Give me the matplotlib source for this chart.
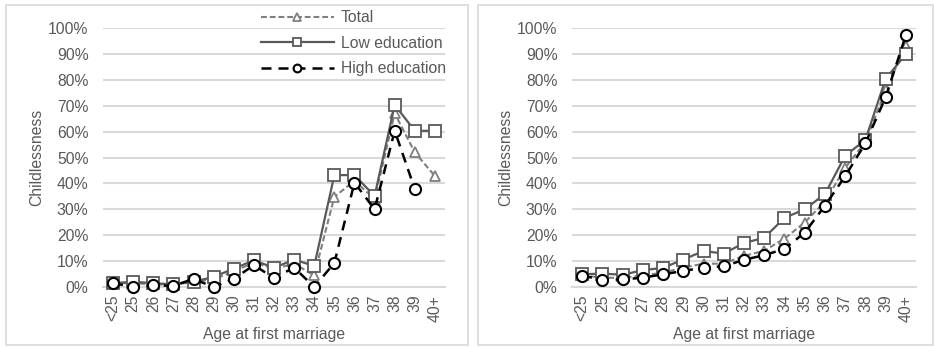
import numpy as np
import matplotlib
matplotlib.use("Agg")
import matplotlib.pyplot as plt
from matplotlib.patches import Rectangle
from matplotlib.ticker import FuncFormatter

plt.rcParams["font.family"] = ["Liberation Sans", "DejaVu Sans"]

ages = ["<25", "25", "26", "27", "28", "29", "30", "31", "32", "33", "34",
        "35", "36", "37", "38", "39", "40+"]

# left panel (%)
left_total = [1.5, 1.5, 1.0, 1.0, 2.0, 3.0, 6.0, 9.5, 7.0, 9.0, 4.5,
              34.8, 41.0, 34.0, 67.0, 52.0, 42.8]
left_low = [1.5, 2.0, 1.5, 1.0, 2.0, 3.9, 7.1, 10.3, 7.4, 10.6, 8.1,
            43.2, 43.2, 35.1, 70.3, 60.3, 60.3]
left_high = [1.5, 0.0, 0.6, 0.5, 3.1, 0.0, 3.2, 8.4, 3.5, 7.5, 0.0,
             9.3, 40.3, 30.0, 60.3, 37.8, np.nan]

# right panel (%)
right_total = [4.5, 3.6, 3.5, 4.5, 5.5, 7.5, 9.0, 9.0, 12.0, 14.0, 18.7,
               24.9, 33.0, 46.0, 56.0, 76.0, 93.2]
right_low = [4.9, 5.2, 4.7, 6.5, 7.4, 10.6, 13.9, 12.9, 17.0, 19.0, 26.7,
             30.0, 35.9, 50.7, 56.8, 80.4, 89.9]
right_high = [4.4, 2.8, 2.9, 3.6, 4.9, 6.2, 7.5, 8.0, 10.5, 12.3, 14.7,
              21.0, 31.4, 42.8, 55.5, 73.3, 97.2]

TXT = "#595959"
GRID = "#d9d9d9"
FS = 11.3

fig = plt.figure(figsize=(9.34, 3.47), dpi=100)
W, H = 934, 347

# panel borders
for x0, x1 in [(6, 468), (478, 933)]:
    fig.patches.append(Rectangle((x0 / W, 1 - 345 / H), (x1 - x0) / W, 340 / H,
                                 transform=fig.transFigure, fill=False,
                                 edgecolor="#d9d9d9", lw=1.2))

ax1 = fig.add_axes([103 / W, 60 / H, 342 / W, 259 / H])
ax2 = fig.add_axes([572 / W, 60 / H, 344 / W, 259 / H])

x = np.arange(len(ages))


def draw(ax, total, low, high):
    ax.plot(x, np.array(total) / 100, color="#7f7f7f", lw=1.5,
            linestyle=(0, (2.8, 1.4)), marker="^", ms=7.5, mfc="white",
            mec="#7f7f7f", mew=1.3, label="Total", zorder=3)
    ax.plot(x, np.array(low) / 100, color="#595959", lw=1.6, linestyle="-",
            marker="s", ms=8, mfc="white", mec="#595959", mew=1.3,
            label="Low education", zorder=4)
    ax.plot(x, np.array(high) / 100, color="black", lw=1.8,
            linestyle=(0, (4, 2.8)), marker="o", ms=8, mfc="white",
            mec="black", mew=1.5, label="High education", zorder=5)
    ax.set_xlim(-0.5, len(ages) - 0.5)
    ax.set_ylim(0, 1.0)
    ax.set_yticks(np.arange(0, 1.01, 0.1))
    ax.yaxis.set_major_formatter(FuncFormatter(lambda v, p: f"{v * 100:.0f}%"))
    ax.set_xticks(x)
    ax.set_xticklabels(ages, rotation=90)
    ax.grid(axis="y", color=GRID, lw=1.5)
    ax.set_axisbelow(True)
    for s in ["top", "right", "left"]:
        ax.spines[s].set_visible(False)
    ax.spines["bottom"].set_color(GRID)
    ax.spines["bottom"].set_linewidth(1.5)
    ax.tick_params(axis="y", length=0, labelsize=FS, colors=TXT, pad=10.5)
    ax.tick_params(axis="x", length=0, labelsize=FS, colors=TXT, pad=5.5)
    ax.set_ylabel("Childlessness", fontsize=FS, color=TXT, labelpad=3)
    ax.set_xlabel("Age at first marriage", fontsize=FS, color=TXT, labelpad=4)
    for ln in ax.lines:
        ln.set_clip_on(False)


draw(ax1, left_total, left_low, left_high)
draw(ax2, right_total, right_low, right_high)

leg = ax1.legend(loc="upper right", bbox_to_anchor=(449 / W, 1 - 7 / H),
                 bbox_transform=fig.transFigure, frameon=False, fontsize=FS,
                 handlelength=4.65, markerscale=0.7, labelspacing=0.68,
                 borderpad=0.2, handletextpad=0.45, borderaxespad=0)
for t in leg.get_texts():
    t.set_color(TXT)
leg.set_zorder(10)

fig.savefig("out.png", dpi=100)
